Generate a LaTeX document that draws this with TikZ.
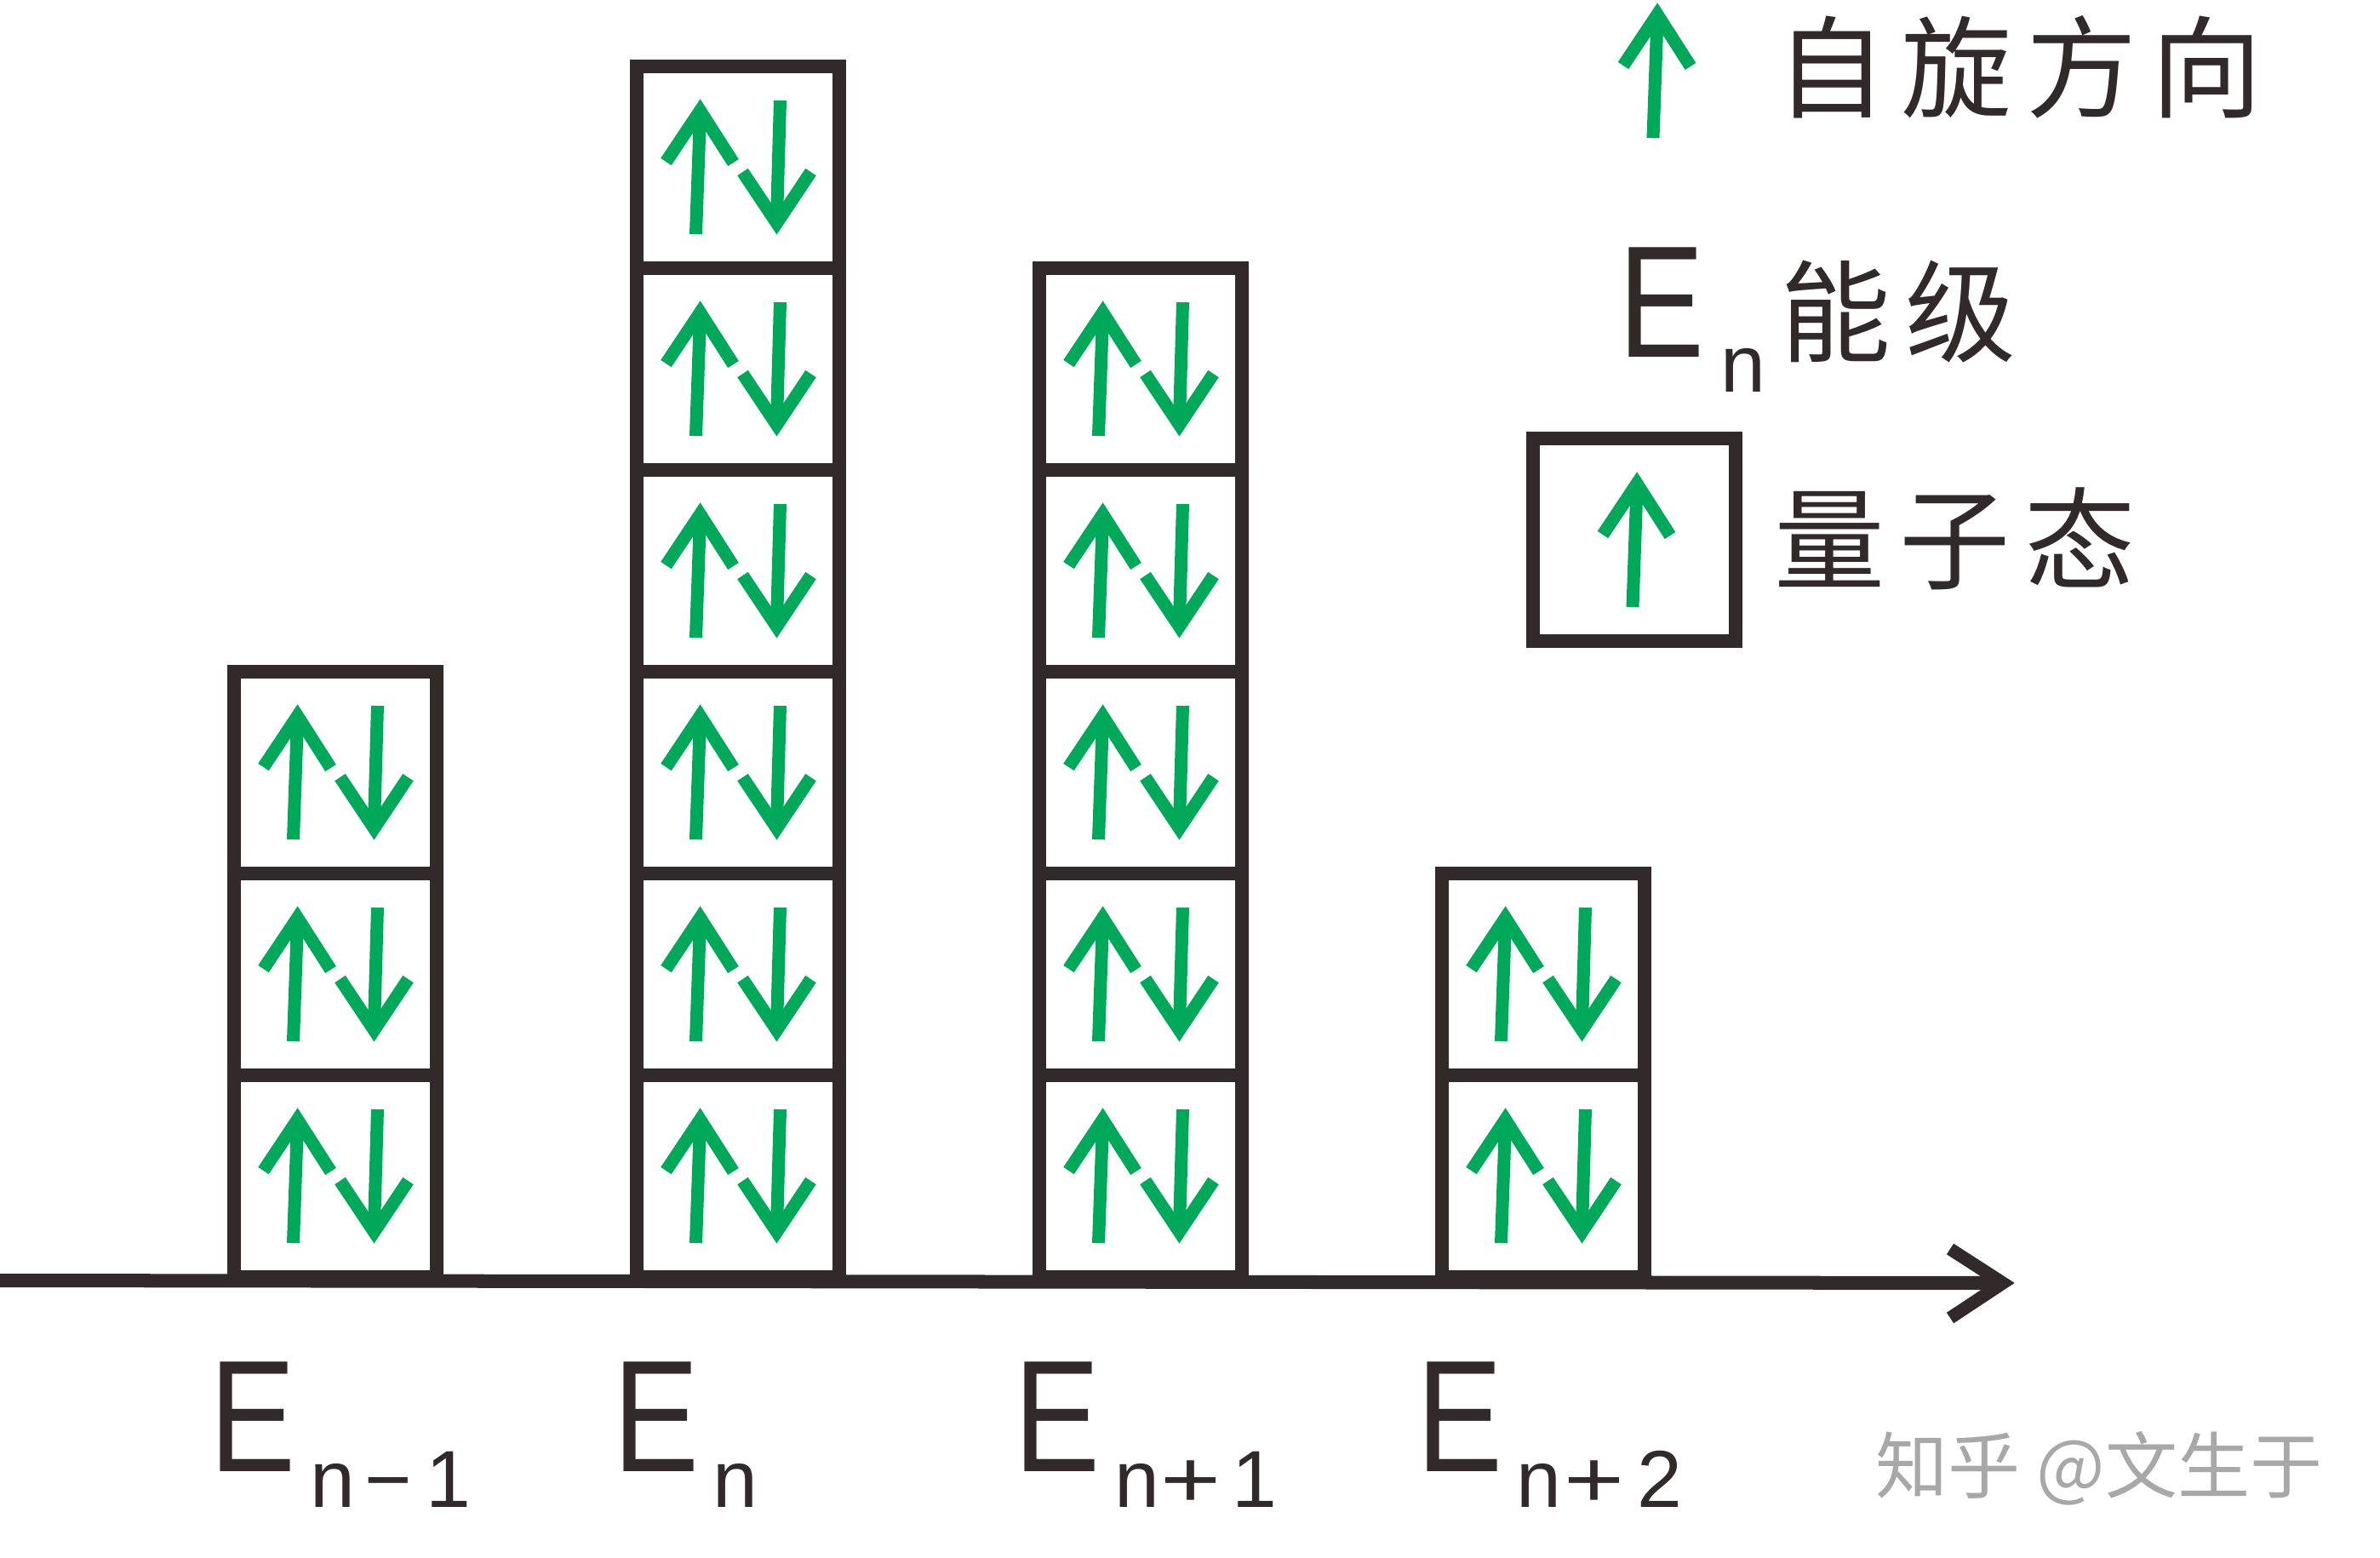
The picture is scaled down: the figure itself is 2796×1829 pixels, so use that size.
\documentclass[tikz,border=0pt]{standalone}
\usepackage{fontspec}
\setmainfont{Liberation Sans}
\newfontfamily\cjk{Noto Sans CJK SC}
\newfontfamily\cjkls{Noto Sans CJK SC}[LetterSpace=13]
\definecolor{ink}{RGB}{50,42,42}
\definecolor{spin}{RGB}{0,168,90}
\newcommand{\wideplus}{\scalebox{1.28}[1]{+}}
\tikzset{
  upspin/.pic={\draw[spinline] (-40,76) -- (0,16) -- (39,77); \draw[spinline] (0,20) -- (-5,161);},
  downspin/.pic={\draw[spinline] (-40,-76) -- (0,-16) -- (40,-76); \draw[spinline] (0,-20) -- (4,-160);},
}
\begin{document}
\begin{tikzpicture}[x=0.01cm,y=-0.01cm,
  cell/.style={draw=ink, line width=0.16cm, minimum size=2.37cm, inner sep=0pt, outer sep=0pt},
  spinline/.style={draw=spin, line width=0.15cm, line cap=butt, line join=miter},
  elabel/.style={text=ink, inner sep=0pt, font=\fontsize{53.2pt}{60pt}\selectfont, anchor=base},
  sublabel/.style={text=ink, inner sep=0pt, font=\fontsize{27pt}{30pt}\selectfont, anchor=base west},
  cjklabel/.style={text=ink, inner sep=0pt, font=\cjkls\fontsize{37pt}{40pt}\selectfont},
  axisline/.style={draw=ink, line width=0.16cm},
]
\fill[white] (0,0) rectangle (2796,1829);
\useasboundingbox (0,0) rectangle (2796,1829);

% axis
\coordinate (axL) at (0,1504);
\coordinate (axR) at (2353,1507);
\draw[axisline] (axL) -- (axR);
\draw[axisline, line width=0.15cm, line join=miter] ([shift={(-62,-40)}]axR) -- (axR) -- ([shift={(-62,41)}]axR);

% stacks of quantum states
\foreach \col/\cx/\n in {1/394/3, 2/867/6, 3/1340/5, 4/1813/2} {
  \foreach \k in {1,...,\n} {
    \node[cell] (c\col-\k) at (\cx, {1618.5-237*\k}) {};
    \pic at ([shift={(-44.5,-82.5)}]c\col-\k.center) {upspin};
    \pic at ([shift={(45.5,81.5)}]c\col-\k.center) {downspin};
  }
}

% energy level labels
\node[elabel] (E1) at (297.5,1728) {\scalebox{0.81}[1]{E}};
\node[sublabel] (S1) at (363.5,1770) {n\hspace{0.12cm}−\hspace{0.16cm}1};
\node[elabel] (E2) at (771,1728) {\scalebox{0.81}[1]{E}};
\node[sublabel] (S2) at (836.5,1770) {n};
\node[elabel] (E3) at (1242.5,1728) {\scalebox{0.81}[1]{E}};
\node[sublabel] (S3) at (1308.5,1770) {n\hspace{0.014cm}\wideplus\hspace{0.126cm}1};
\node[elabel] (E4) at (1715,1728) {\scalebox{0.81}[1]{E}};
\node[sublabel] (S4) at (1780.5,1770) {n\hspace{0.034cm}\wideplus\hspace{0.15cm}2};

% legend
\coordinate (lgtip) at (1947,1);
\pic at (lgtip) {upspin};
\node[cjklabel] (spinTxt) at (2372,79) {自旋方向};
\node[elabel] (LE) at (1952.5,419) {\scalebox{0.81}[1]{E}};
\node[sublabel] (LS) at (2020.5,460) {n};
\node[cjklabel] (levelTxt) at (2230,366) {能级};
\node[cell] (legbox) at (1920,634) {};
\pic at ([shift={(3,-82)}]legbox.center) {upspin};
\node[cjklabel] (stateTxt) at (2297,633) {量子态};

% watermark
\node[text=black!34, font=\cjk\fontsize{24.2pt}{26pt}\selectfont, inner sep=0pt] (wm) at (2466,1725) {知乎 @文生于};
\end{tikzpicture}
\end{document}
